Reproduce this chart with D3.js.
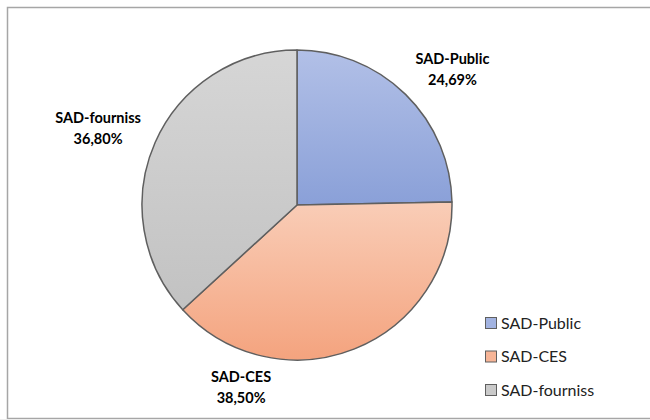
<!DOCTYPE html>
<html>
<head>
<meta charset="utf-8">
<script src="https://cdn.jsdelivr.net/npm/d3@7"></script>
<style>
  html, body { margin: 0; padding: 0; background: #fff; }
  svg { display: block; }
  text { font-family: Lato, "Open Sans", "Liberation Sans", sans-serif; }
</style>
</head>
<body>
<svg id="chart" width="650" height="420"></svg>
<script>
// Parts of the SAD mix (percent)
const categories = ["SAD-Public", "SAD-CES", "SAD-fourniss"];
const shares = [24.69, 38.50, 36.80];
const shareLabels = ["24,69%", "38,50%", "36,80%"];

// Gradient stops (top, bottom) and legend swatch colour per slice
const gradTop = ["#b2c0e7", "#f9cdb7", "#d6d6d6"];
const gradBottom = ["#8aa0d8", "#f4a37e", "#c2c2c2"];
const swatch = ["#a2b3e1", "#f7b597", "#cacaca"];

// Label placement: radius factor and angular nudge (degrees) from each slice's mid-angle
const labelRadius = [1.34, 1.22, 1.38];
const labelNudge = [4, 39, -2.2];

const W = 650, H = 420;
const cx = 297, cy = 205, R = 155;

const svg = d3.select("#chart");

// Chart frame
svg.append("rect")
  .attr("x", 7.5).attr("y", 7.5)
  .attr("width", W + 10).attr("height", 411)
  .attr("fill", "#fff")
  .attr("stroke", "#a6a6a6")
  .attr("stroke-width", 1.5);
svg.append("line")
  .attr("x1", 0).attr("x2", W).attr("y1", 419.5).attr("y2", 419.5)
  .attr("stroke", "#ececec");

const defs = svg.append("defs");
categories.forEach((c, i) => {
  const g = defs.append("linearGradient")
    .attr("id", "grad" + i)
    .attr("x1", 0).attr("y1", 0).attr("x2", 0).attr("y2", 1);
  g.append("stop").attr("offset", "0%").attr("stop-color", gradTop[i]);
  g.append("stop").attr("offset", "100%").attr("stop-color", gradBottom[i]);
});

const pie = d3.pie().sort(null).value(d => d)(shares);
const arc = d3.arc().innerRadius(0).outerRadius(R);

const g = svg.append("g").attr("transform", `translate(${cx},${cy})`);

g.selectAll("path.slice")
  .data(pie)
  .join("path")
  .attr("class", "slice")
  .attr("d", arc)
  .attr("fill", (d, i) => `url(#grad${i})`)
  .attr("stroke", "#5f5f5f")
  .attr("stroke-width", 1.5)
  .attr("stroke-linejoin", "round");

// Slice labels: category name + percent, bold, outside the pie
const lab = g.selectAll("text.lab")
  .data(pie)
  .join("text")
  .attr("class", "lab")
  .attr("text-anchor", "middle")
  .attr("font-size", 14.5)
  .attr("font-weight", "bold")
  .attr("fill", "#000")
  .attr("transform", (d, i) => {
    const a = (d.startAngle + d.endAngle) / 2 + labelNudge[i] * Math.PI / 180;
    const r = R * labelRadius[i];
    return `translate(${r * Math.sin(a)},${-r * Math.cos(a)})`;
  });
lab.append("tspan").attr("x", 0).attr("dy", "-0.25em").text((d, i) => categories[i]);
lab.append("tspan").attr("x", 0).attr("dy", "1.45em").text((d, i) => shareLabels[i]);

// Legend
const legend = svg.append("g").attr("transform", "translate(485,317)");
const item = legend.selectAll("g")
  .data(categories)
  .join("g")
  .attr("transform", (d, i) => `translate(0,${i * 33.5})`);
item.append("rect")
  .attr("x", 0.5).attr("y", 0.5)
  .attr("width", 11).attr("height", 11)
  .attr("fill", (d, i) => swatch[i])
  .attr("stroke", "#5f5f5f")
  .attr("stroke-width", 1);
item.append("text")
  .attr("x", 16).attr("y", 11.5)
  .attr("font-size", 16)
  .attr("fill", "#222")
  .text(d => d);
</script>
</body>
</html>
